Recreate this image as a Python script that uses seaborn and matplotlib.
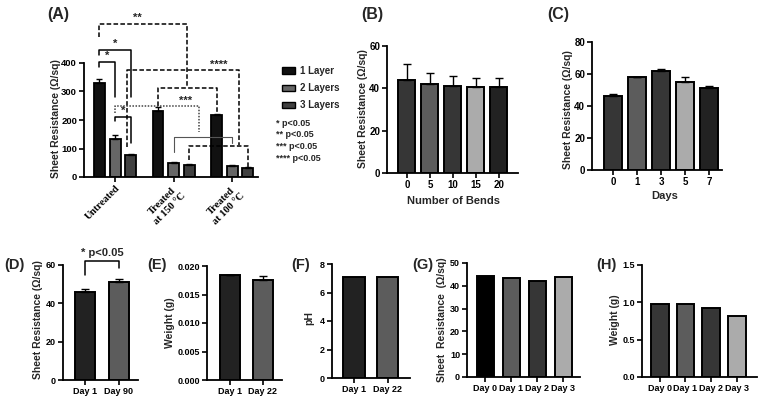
import numpy as np
import pandas as pd
import matplotlib
matplotlib.use("Agg")
import matplotlib.pyplot as plt
from matplotlib.patches import Patch
from matplotlib.ticker import FormatStrFormatter
import seaborn as sns

# ---------------- data ----------------
a_groups = ["Untreated", "Treated\nat 150 °C", "Treated\nat 100 °C"]
a_layers = ["1 Layer", "2 Layers", "3 Layers"]
a_vals = {"1 Layer": [330, 232, 217], "2 Layers": [135, 50, 40], "3 Layers": [77, 43, 31]}
a_errs = {"1 Layer": [15, 12, 5], "2 Layers": [12, 3, 3], "3 Layers": [5, 2, 4]}
a_colors = ["#111111", "#666666", "#404040"]
p_texts = ["* p<0.05", "** p<0.05", "*** p<0.05", "**** p<0.05"]

b_cats = ["0", "5", "10", "15", "20"]
b_vals = [44, 42, 41, 40.5, 40.5]
b_errs = [7.5, 5.3, 5.0, 4.2, 4.3]

c_cats = ["0", "1", "3", "5", "7"]
c_vals = [46, 58, 62, 55, 51]
c_errs = [1.5, 0.3, 1.0, 3.0, 1.5]
bc_colors = ["#363636", "#5c5c5c", "#363636", "#ababab", "#222222"]

d_cats = ["Day 1", "Day 90"]
d_vals = [46, 51]
d_errs = [1.5, 1.5]

e_cats = ["Day 1", "Day 22"]
e_vals = [0.0184, 0.0176]
e_errs = [0.0001, 0.0006]

f_cats = ["Day 1", "Day 22"]
f_vals = [7.1, 7.1]

g_cats = ["Day 0", "Day 1", "Day 2", "Day 3"]
g_vals = [44.2, 43.5, 42.3, 44.0]
g_colors = ["#000000", "#5c5c5c", "#363636", "#ababab"]

h_cats = ["Day 0", "Day 1", "Day 2", "Day 3"]
h_vals = [0.98, 0.98, 0.93, 0.82]
h_colors = ["#363636", "#5c5c5c", "#363636", "#ababab"]
two_colors = ["#222222", "#5c5c5c"]

# ---------------- style ----------------
sns.set_theme(style="ticks")
plt.rcParams["font.family"] = ["Liberation Sans", "DejaVu Sans"]
plt.rcParams["font.weight"] = "bold"
plt.rcParams["axes.labelweight"] = "bold"

W, H = 759, 400
fig = plt.figure(figsize=(W / 100, H / 100), dpi=100)


def add_ax(x0, x1, yt, yb):
    return fig.add_axes([x0 / W, 1 - yb / H, (x1 - x0) / W, (yb - yt) / H])


def style_ax(ax, ylim, yticks, xlim, fs=7):
    ax.set_ylim(*ylim)
    ax.set_yticks(yticks)
    ax.set_xlim(*xlim)
    sns.despine(ax=ax)
    for s in ["left", "bottom"]:
        ax.spines[s].set_linewidth(1.3)
        ax.spines[s].set_color("black")
    ax.tick_params(width=1.2, length=3.5, labelsize=fs, colors="black", pad=1.5)
    ax.set_xlabel("")
    ax.set_ylabel("")


def ylabel_at(ax, text, box, px_right, py_center, fs=7.5):
    x0, x1, yt, yb = box
    ax.set_ylabel(text, fontsize=fs, fontweight="bold")
    ax.yaxis.set_label_coords((px_right - x0) / (x1 - x0), (yb - py_center) / (yb - yt))


def simple_panel(box, cats, vals, colors, width, xlim, ylim, yticks, errs=None, fs=7):
    ax = add_ax(*box)
    df = pd.DataFrame({"cat": cats, "val": vals})
    sns.barplot(data=df, x="cat", y="val", hue="cat", order=cats, hue_order=cats,
                palette=dict(zip(cats, colors)), width=width, edgecolor="black",
                linewidth=1.4, legend=False, ax=ax, errorbar=None, saturation=1)
    if errs is not None:
        pos = np.arange(len(cats))
        ax.errorbar(pos, vals, yerr=[np.zeros(len(errs)), errs], fmt="none",
                    ecolor="black", elinewidth=1.0, capsize=3, capthick=1.0, zorder=5)
    style_ax(ax, ylim, yticks, xlim, fs)
    return ax


# ---------------- Panel A ----------------
boxA = (84, 258, 63, 177)
axA = add_ax(*boxA)
rows = []
for lay in a_layers:
    for g, v in zip(a_groups, a_vals[lay]):
        rows.append({"group": g, "layer": lay, "val": v})
dfA = pd.DataFrame(rows)
sns.barplot(data=dfA, x="group", y="val", hue="layer", order=a_groups, hue_order=a_layers,
            palette=a_colors, width=0.8, gap=0.3, edgecolor="black", linewidth=1.3,
            errorbar=None, saturation=1, legend=False, ax=axA)
xc = {}
for lay, cont in zip(a_layers, axA.containers):
    for gi, (bar, e) in enumerate(zip(cont, a_errs[lay])):
        cx = bar.get_x() + bar.get_width() / 2
        xc[(gi, lay)] = cx
        axA.errorbar([cx], [bar.get_height()], yerr=[[0], [e]], fmt="none", ecolor="black",
                     elinewidth=1.0, capsize=2.5, capthick=1.0, zorder=5)
style_ax(axA, (0, 400), [0, 100, 200, 300, 400], (-0.53, 2.44), fs=6.8)
for lbl in axA.get_xticklabels():
    lbl.set_rotation(45)
    lbl.set_ha("right")
    lbl.set_rotation_mode("anchor")
    lbl.set_family(["Liberation Serif", "DejaVu Serif"])
    lbl.set_fontsize(7.5)
    lbl.set_multialignment("center")
ylabel_at(axA, "Sheet Resistance (Ω/sq)", boxA, 61, 119)


def seg(ax, xs, ys, **kw):
    ax.plot(xs, ys, clip_on=False, **kw)


def top(gi, lay):
    return a_vals[lay][gi] + a_errs[lay][gi]


L1, L2, L3 = a_layers
dash = dict(color="black", lw=1.1, ls=(0, (3, 1.5)))
solid = dict(color="black", lw=1.1)
dot = dict(color="#444444", lw=1.1, ls=(0, (1, 1)))
thin = dict(color="#555555", lw=0.8)

# ** : untreated 1L vs (150 1L, 100 1L)
xm = (xc[(1, L1)] + xc[(2, L1)]) / 2
seg(axA, [xc[(0, L1)], xc[(0, L1)], xm, xm], [491, 537, 537, 312], **dash)
seg(axA, [xc[(1, L1)], xc[(1, L1)], xc[(2, L1)], xc[(2, L1)]],
    [top(1, L1) + 4, 312, 312, top(2, L1) + 2], **dash)
axA.text(xc[(0, L2)] + 0.38, 540, "**", ha="center", va="bottom", fontsize=8, fontweight="bold")

# * brackets (solid)
seg(axA, [xc[(0, L1)], xc[(0, L1)], xc[(0, L3)], xc[(0, L3)]], [428, 446, 446, 281], **solid)
axA.text((xc[(0, L1)] + xc[(0, L3)]) / 2, 448, "*", ha="center", va="bottom", fontsize=8)
seg(axA, [xc[(0, L1)], xc[(0, L1)], xc[(0, L2)], xc[(0, L2)]], [386, 404, 404, 281], **solid)
axA.text((xc[(0, L1)] + xc[(0, L2)]) / 2, 406, "*", ha="center", va="bottom", fontsize=8)
seg(axA, [xc[(0, L2)], xc[(0, L2)], xc[(0, L3)], xc[(0, L3)]], [195, 211, 211, 119], **solid)
axA.text((xc[(0, L2)] + xc[(0, L3)]) / 2, 213, "*", ha="center", va="bottom", fontsize=8)

# **** : untreated 3L vs (150 3L, 100 3L)
x_u3 = xc[(0, L3)] - 0.07
xr = xc[(1, L3)] + 0.85 * (xc[(2, L3)] - xc[(1, L3)])
seg(axA, [x_u3, x_u3, xr, xr], [105, 375, 375, 112], **dash)
seg(axA, [xc[(1, L3)], xc[(1, L3)], xc[(2, L3)], xc[(2, L3)]],
    [60, 109, 109, 35], **dash)
axA.text(xc[(2, L1)] + 0.04, 376, "****", ha="center", va="bottom", fontsize=8)

# *** : untreated 2L vs (150 2L, 100 2L)
xm2 = (xc[(1, L2)] + xc[(2, L2)]) / 2 - 0.07
seg(axA, [xc[(0, L2)], xc[(0, L2)], xm2, xm2], [225, 249, 249, 158], **dot)
seg(axA, [xc[(1, L2)], xc[(1, L2)], xc[(2, L2)], xc[(2, L2)]], [88, 140, 140, 119], **thin)
axA.text(xc[(1, L2)] + 0.2, 251, "***", ha="center", va="bottom", fontsize=8)

# legend + p-value notes
handles = [Patch(facecolor=c, edgecolor="black", linewidth=1.0) for c in a_colors]
fig.legend(handles, a_layers, loc="upper left", bbox_to_anchor=(278 / W, 1 - 62 / H),
           frameon=False, fontsize=7, handlelength=1.3, handleheight=0.6,
           labelspacing=0.75, handletextpad=0.6, borderaxespad=0)
for i, t in enumerate(p_texts):
    fig.text(276 / W, 1 - (123 + 11.7 * i) / H, t, fontsize=6.5, fontweight="bold",
             ha="left", va="center")

# ---------------- Panel B ----------------
boxB = (387, 518, 46, 173)
axB = simple_panel(boxB, b_cats, b_vals, bc_colors, 0.74, (-0.87, 4.83), (0, 60),
                   [0, 20, 40, 60], errs=b_errs)
ylabel_at(axB, "Sheet Resistance (Ω/sq)", boxB, 368, 109)
axB.set_xlabel("Number of Bends", fontsize=8)
axB.xaxis.set_label_coords((453 - 387) / 131, -(196 - 173) / 127)

# ---------------- Panel C ----------------
boxC = (592, 722, 42, 170)
axC = simple_panel(boxC, c_cats, c_vals, bc_colors, 0.72, (-0.875, 4.54), (0, 80),
                   [0, 20, 40, 60, 80], errs=c_errs)
ylabel_at(axC, "Sheet Resistance (Ω/sq)", boxC, 573, 110)
axC.set_xlabel("Days", fontsize=8)
axC.xaxis.set_label_coords((665 - 592) / 130, -(191 - 170) / 128)

# ---------------- Panel D ----------------
boxD = (63, 138, 265, 380)
axD = simple_panel(boxD, d_cats, d_vals, two_colors, 0.6, (-0.66, 1.57), (0, 60),
                   [0, 20, 40, 60], errs=d_errs, fs=6.5)
ylabel_at(axD, "Sheet Resistance (Ω/sq)", boxD, 43, 320)
seg(axD, [0, 0, 1, 1], [54.7, 62, 62, 58.4], color="black", lw=1.1)
axD.text(0.5, 63.5, "* p<0.05", ha="center", va="bottom", fontsize=8, fontweight="bold")

# ---------------- Panel E ----------------
boxE = (207, 282, 266, 380)
axE = simple_panel(boxE, e_cats, e_vals, two_colors, 0.62, (-0.7, 1.58), (0, 0.020),
                   [0, 0.005, 0.010, 0.015, 0.020], errs=e_errs, fs=6.5)
axE.yaxis.set_major_formatter(FormatStrFormatter("%.3f"))
ylabel_at(axE, "Weight (g)", boxE, 175, 323)

# ---------------- Panel F ----------------
boxF = (332, 410, 264, 378)
axF = simple_panel(boxF, f_cats, f_vals, two_colors, 0.65, (-0.66, 1.67), (0, 8),
                   [0, 2, 4, 6, 8], fs=6.5)
ylabel_at(axF, "pH", boxF, 314, 318)

# ---------------- Panel G ----------------
boxG = (467, 580, 263, 377)
axG = simple_panel(boxG, g_cats, g_vals, g_colors, 0.66, (-0.7, 3.65), (0, 50),
                   [0, 10, 20, 30, 40, 50], fs=6.5)
ylabel_at(axG, "Sheet  Resistance  (Ω/sq)", boxG, 447, 320)

# ---------------- Panel H ----------------
boxH = (642, 757, 265, 377)
axH = simple_panel(boxH, h_cats, h_vals, h_colors, 0.7, (-0.7, 3.8), (0, 1.5),
                   [0.0, 0.5, 1.0, 1.5], fs=6.5)
axH.yaxis.set_major_formatter(FormatStrFormatter("%.1f"))
ylabel_at(axH, "Weight (g)", boxH, 620, 320)

# ---------------- panel letters ----------------
letters = [("(A)", 47, 14, 11.5), ("(B)", 361, 14, 11.5), ("(C)", 547, 14, 11.5),
           ("(D)", 4, 265, 10.5), ("(E)", 147, 265, 10.5), ("(F)", 291, 265, 10.5),
           ("(G)", 412, 265, 10.5), ("(H)", 596, 265, 10.5)]
for t, x, y, s in letters:
    fig.text(x / W, 1 - y / H, t, fontsize=s, fontweight="bold", ha="left", va="center")

fig.savefig("out.png", dpi=100)
